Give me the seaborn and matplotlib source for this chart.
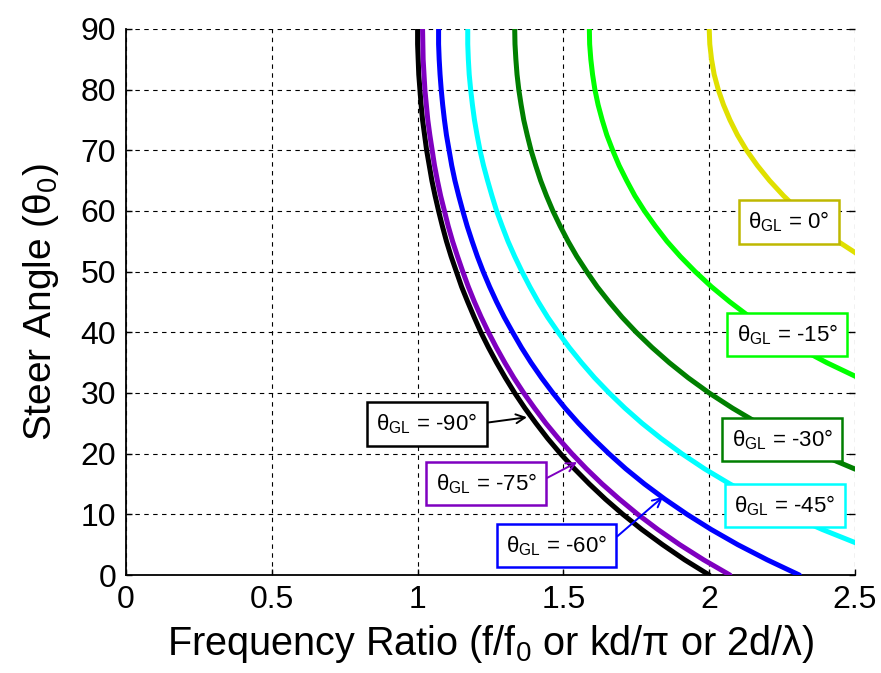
import numpy as np
import pandas as pd
import matplotlib
matplotlib.use("Agg")
import matplotlib.pyplot as plt
import seaborn as sns

# ---------------- data ----------------
STEER_ANGLE = [0, 2.5, 5, 7.5, 10, 12.5, 15, 17.5, 20, 22.5, 25, 27.5, 30, 32.5,
               35, 37.5, 40, 42.5, 45, 47.5, 50, 52.5, 55, 57.5, 60, 62.5, 65,
               67.5, 70, 72.5, 75, 77.5, 80, 82.5, 85, 87.5, 90]

RATIO_GL_M90 = [2.000, 1.916, 1.840, 1.769, 1.704, 1.644, 1.589, 1.538, 1.490, 1.446,
                1.406, 1.368, 1.333, 1.301, 1.271, 1.243, 1.217, 1.194, 1.172, 1.151,
                1.133, 1.115, 1.099, 1.085, 1.072, 1.060, 1.049, 1.040, 1.031, 1.024,
                1.017, 1.012, 1.008, 1.004, 1.002, 1.000, 1.000]
RATIO_GL_M75 = [2.071, 1.981, 1.899, 1.824, 1.755, 1.692, 1.633, 1.579, 1.529, 1.483,
                1.440, 1.401, 1.364, 1.330, 1.299, 1.270, 1.243, 1.218, 1.195, 1.174,
                1.155, 1.137, 1.120, 1.105, 1.092, 1.079, 1.068, 1.058, 1.050, 1.042,
                1.035, 1.030, 1.025, 1.022, 1.019, 1.018, 1.017]
RATIO_GL_M60 = [2.309, 2.199, 2.098, 2.007, 1.924, 1.848, 1.778, 1.714, 1.656, 1.602,
                1.552, 1.506, 1.464, 1.425, 1.389, 1.356, 1.326, 1.297, 1.271, 1.247,
                1.225, 1.205, 1.187, 1.170, 1.155, 1.141, 1.128, 1.117, 1.108, 1.099,
                1.092, 1.086, 1.081, 1.077, 1.074, 1.072, 1.072]
RATIO_GL_M45 = [2.828, 2.664, 2.518, 2.388, 2.271, 2.166, 2.071, 1.984, 1.906, 1.835,
                1.770, 1.711, 1.657, 1.607, 1.562, 1.520, 1.482, 1.446, 1.414, 1.385,
                1.358, 1.333, 1.310, 1.290, 1.271, 1.255, 1.240, 1.226, 1.214, 1.204,
                1.195, 1.188, 1.182, 1.177, 1.174, 1.172, 1.172]
RATIO_GL_M30 = [None, None, None, None, 2.969, 2.792, 2.636, 2.498, 2.375, 2.266,
                2.168, 2.080, 2.000, 1.928, 1.863, 1.804, 1.750, 1.701, 1.657, 1.616,
                1.580, 1.546, 1.516, 1.489, 1.464, 1.442, 1.422, 1.405, 1.389, 1.376,
                1.364, 1.355, 1.347, 1.341, 1.337, 1.334, 1.333]
RATIO_GL_M15 = [None, None, None, None, None, None, None, None, None, None,
                2.935, 2.776, 2.636, 2.512, 2.403, 2.305, 2.218, 2.140, 2.071, 2.008,
                1.952, 1.901, 1.855, 1.815, 1.778, 1.745, 1.717, 1.691, 1.669, 1.649,
                1.633, 1.619, 1.608, 1.600, 1.594, 1.590, 1.589]
RATIO_GL_0 = [None, None, None, None, None, None, None, None, None, None,
              None, None, None, None, None, None, None, None, None, None,
              2.611, 2.521, 2.441, 2.371, 2.309, 2.255, 2.207, 2.165, 2.128, 2.097,
              2.071, 2.049, 2.031, 2.017, 2.008, 2.002, 2.000]

CURVE_NAMES = ["θGL = -90°", "θGL = -75°", "θGL = -60°", "θGL = -45°",
               "θGL = -30°", "θGL = -15°", "θGL = 0°"]
CURVE_LABELS = [r"θ$_{\mathrm{GL}}$ = -90°", r"θ$_{\mathrm{GL}}$ = -75°",
                r"θ$_{\mathrm{GL}}$ = -60°", r"θ$_{\mathrm{GL}}$ = -45°",
                r"θ$_{\mathrm{GL}}$ = -30°", r"θ$_{\mathrm{GL}}$ = -15°",
                r"θ$_{\mathrm{GL}}$ = 0°"]
LINE_COLORS = ["#000000", "#7F00C0", "#0000FF", "#00FFFF", "#007F00", "#00FF00", "#E0E000"]
BOX_COLORS = ["#000000", "#7F00C0", "#0000FF", "#00FFFF", "#007F00", "#00FF00", "#BFB800"]

# label box centres and arrow targets (data coordinates)
LABEL_X = [1.032, 1.235, 1.476, 2.26, 2.25, 2.267, 2.274]
LABEL_Y = [24.9, 15.1, 4.9, 11.5, 22.3, 39.6, 58.2]
ARROW_X = [1.375, 1.547, 1.842, None, None, None, None]
ARROW_Y = [26.0, 18.6, 12.9, None, None, None, None]

X_TICKS = [0, 0.5, 1, 1.5, 2, 2.5]
X_TICK_LABELS = ["0", "0.5", "1", "1.5", "2", "2.5"]
Y_TICKS = [0, 10, 20, 30, 40, 50, 60, 70, 80, 90]

# ---------------- build table ----------------
all_ratios = [RATIO_GL_M90, RATIO_GL_M75, RATIO_GL_M60, RATIO_GL_M45,
              RATIO_GL_M30, RATIO_GL_M15, RATIO_GL_0]
rows = []
for name, ratios in zip(CURVE_NAMES, all_ratios):
    for a, r in zip(STEER_ANGLE, ratios):
        if r is not None:
            rows.append({"curve": name, "ratio": r, "angle": a})
df = pd.DataFrame(rows)

# ---------------- style ----------------
sns.set_theme(style="white")
plt.rcParams["font.family"] = ["Liberation Sans", "DejaVu Sans"]
plt.rcParams["mathtext.fontset"] = "custom"
plt.rcParams["mathtext.rm"] = "Liberation Sans"
plt.rcParams["mathtext.it"] = "Liberation Sans:italic"
plt.rcParams["mathtext.bf"] = "Liberation Sans:bold"

fig = plt.figure(figsize=(8.81, 6.73), dpi=100)
ax = fig.add_axes([0.143, 0.1456, 0.9705 - 0.143, 0.957 - 0.1456])

sns.lineplot(data=df, x="ratio", y="angle", hue="curve",
             palette=dict(zip(CURVE_NAMES, LINE_COLORS)),
             sort=False, estimator=None, linewidth=3.6, legend=False, ax=ax,
             zorder=3)

ax.set_xlim(0, 2.5)
ax.set_ylim(0, 90)
ax.set_xticks(X_TICKS)
ax.set_xticklabels(X_TICK_LABELS)
ax.set_yticks(Y_TICKS)

ax.grid(True, color="black", linestyle=(0, (4, 4)), linewidth=0.8)
ax.set_axisbelow(True)

for side in ["top", "right"]:
    ax.spines[side].set_visible(False)
for side in ["left", "bottom"]:
    ax.spines[side].set_color("black")
    ax.spines[side].set_linewidth(1.3)

ax.tick_params(axis="both", which="major", labelsize=23, colors="black",
               direction="in", length=4, width=1, pad=7)
ax.tick_params(axis="y", right=True, left=True)
ax.tick_params(axis="x", bottom=True)

ax.set_xlabel(r"Frequency Ratio (f/f$_0$ or kd/π or 2d/λ)", fontsize=28.5,
              color="black", labelpad=6)
ax.set_ylabel(r"Steer Angle (θ$_0$)", fontsize=28, color="black", labelpad=14)

for lab, bc, lx, ly, axx, ayy in zip(CURVE_LABELS, BOX_COLORS, LABEL_X, LABEL_Y,
                                     ARROW_X, ARROW_Y):
    bbox = dict(boxstyle="square,pad=0.42", fc="white", ec=bc, lw=1.8)
    if axx is None:
        ax.text(lx, ly, lab, fontsize=16, ha="center", va="center",
                color="black", bbox=bbox, zorder=5)
    else:
        ax.annotate(lab, xy=(axx, ayy), xytext=(lx, ly),
                    textcoords="data", fontsize=16, ha="center", va="center",
                    color="black", bbox=bbox, zorder=5,
                    arrowprops=dict(arrowstyle="->", color=bc, lw=1.4,
                                    relpos=(1.0, 0.5), mutation_scale=16,
                                    shrinkA=0, shrinkB=0))

fig.savefig("out.png", dpi=100, facecolor="white")
